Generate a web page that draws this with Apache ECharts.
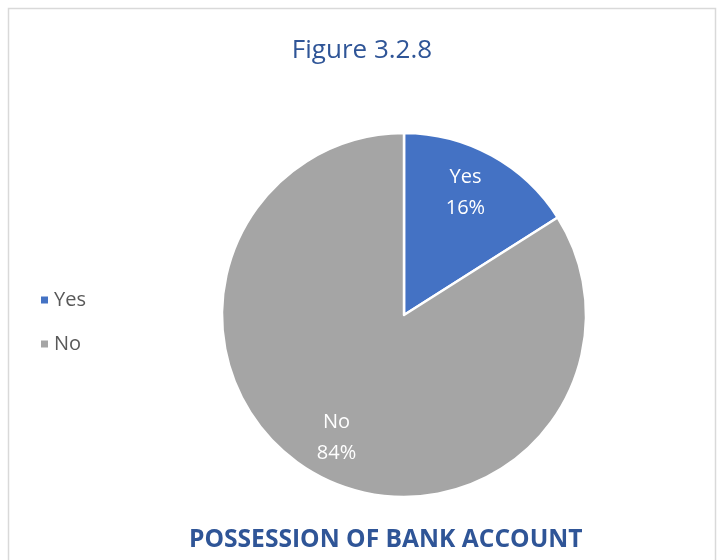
<!DOCTYPE html>
<html>
<head>
<meta charset="utf-8">
<script src="https://cdn.jsdelivr.net/npm/echarts@6/dist/echarts.min.js"></script>
<style>
  html, body { margin: 0; padding: 0; background: #ffffff; }
  #chart { width: 724px; height: 560px; }
</style>
</head>
<body>
<div id="chart"></div>
<script>
// Bank account possession shares
const categories = ['Yes', 'No'];
const shares = [16, 84];
const colors = ['#4472C4', '#A5A5A5'];

const FONT = 'Open Sans';
const pieData = categories.map((name, i) => ({ name, value: shares[i], itemStyle: { color: colors[i] } }));
// small nudges for the in-slice labels
const labelNudge = [[-6, 0], [0, 0]];

const chart = echarts.init(document.getElementById('chart'), null, { renderer: 'canvas' });
chart.setOption({
  backgroundColor: '#ffffff',
  animation: false,
  title: [
    {
      text: 'Figure 3.2.8',
      left: 'center',
      top: 33,
      textStyle: { fontFamily: FONT, fontSize: 26, fontWeight: 'normal', color: '#2F5597' }
    },
    {
      text: 'POSSESSION OF BANK ACCOUNT',
      left: 184,
      top: 522,
      textStyle: { fontFamily: FONT, fontSize: 24.6, fontWeight: 'bold', color: '#2F5597' }
    }
  ],
  legend: {
    orient: 'vertical',
    left: 34,
    top: 285,
    itemWidth: 9,
    itemHeight: 9,
    itemGap: 24,
    icon: 'rect',
    data: categories,
    textStyle: { fontFamily: FONT, fontSize: 20, color: '#595959' }
  },
  graphic: [
    {
      type: 'rect',
      shape: { x: 8.5, y: 8.5, width: 707, height: 600 },
      style: { fill: 'none', stroke: '#D9D9D9', lineWidth: 1.5 },
      silent: true
    }
  ],
  series: [
    {
      type: 'pie',
      center: [404, 315],
      radius: [0, 182],
      startAngle: 90,
      clockwise: true,
      label: { show: false },
      labelLine: { show: false },
      itemStyle: { borderColor: '#ffffff', borderWidth: 2.5 },
      emphasis: { disabled: true },
      data: pieData
    },
    {
      // transparent ring used only to place the category/percent labels
      type: 'pie',
      center: [404, 315],
      radius: [0, 274],
      startAngle: 90,
      clockwise: true,
      silent: true,
      legendHoverLink: false,
      itemStyle: { color: 'rgba(0,0,0,0)' },
      label: {
        show: true,
        position: 'inside',
        formatter: '{b}\n{d}%',
        fontFamily: FONT,
        fontSize: 20,
        lineHeight: 31,
        color: '#ffffff'
      },
      labelLine: { show: false },
      emphasis: { disabled: true },
      data: categories.map((name, i) => ({ name, value: shares[i], label: { offset: labelNudge[i] } }))
    }
  ]
});
</script>
</body>
</html>
